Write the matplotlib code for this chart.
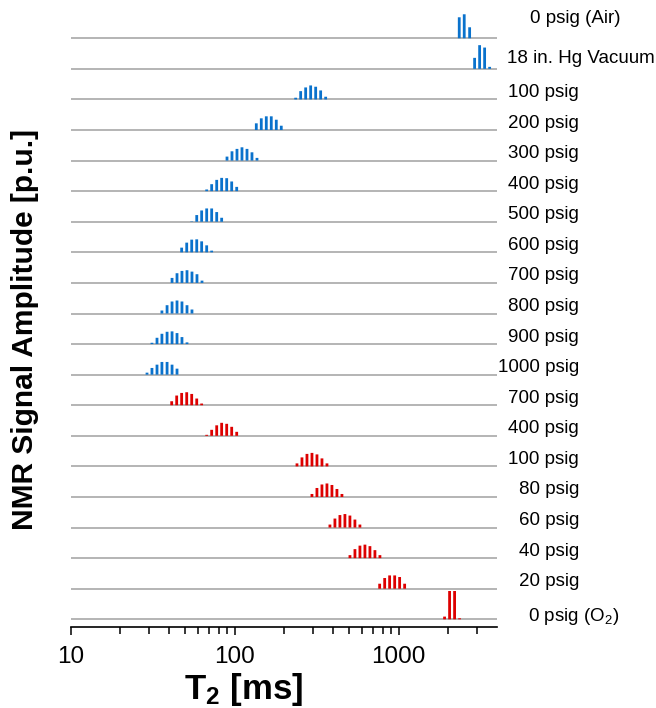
import numpy as np
import matplotlib.pyplot as plt
import matplotlib.ticker as mticker
from matplotlib import transforms

plt.rcParams['font.family'] = ['Liberation Sans', 'DejaVu Sans']
plt.rcParams['mathtext.fontset'] = 'custom'
plt.rcParams['mathtext.rm'] = 'Liberation Sans'
plt.rcParams['mathtext.it'] = 'Liberation Sans:italic'
plt.rcParams['mathtext.bf'] = 'Liberation Sans:bold'

# rows from top to bottom
LABELS = ["0 psig (Air)", "18 in. Hg Vacuum", "100 psig", "200 psig", "300 psig",
          "400 psig", "500 psig", "600 psig", "700 psig", "800 psig", "900 psig",
          "1000 psig", "700 psig", "400 psig", "100 psig", "80 psig", "60 psig",
          "40 psig", "20 psig", r"0 psig (O$_\mathrm{2}$)"]
GROUP = ["blue"] * 12 + ["red"] * 8

# T2 bin centres [ms] and amplitudes for each row
T2 = [
    [2342, 2512, 2710],
    [2906, 3118, 3345, 3589],
    [235.5, 252.6, 271.0, 290.7, 311.9, 334.5, 358.9],
    [135.5, 145.3, 155.9, 167.2, 179.4, 192.4],
    [89.8, 96.3, 103.3, 110.8, 118.9, 127.5, 136.8],
    [67.5, 72.4, 77.7, 83.3, 89.4, 95.9, 102.9],
    [54.7, 58.7, 62.9, 67.5, 72.4, 77.7, 83.3],
    [47.5, 51.0, 54.7, 58.7, 62.9, 67.5, 72.4],
    [41.5, 44.5, 47.7, 51.2, 54.9, 58.9, 63.2],
    [36.0, 38.7, 41.5, 44.5, 47.7, 51.2, 54.9],
    [31.3, 33.6, 36.0, 38.7, 41.5, 44.5, 47.7, 51.2],
    [29.2, 31.3, 33.6, 36.0, 38.7, 41.5, 44.5],
    [41.3, 44.3, 47.5, 51.0, 54.7, 58.7, 62.9],
    [67.5, 72.4, 77.7, 83.3, 89.4, 95.9, 102.9],
    [239.9, 257.3, 276.0, 296.1, 317.6, 340.7, 365.5],
    [296.0, 317.5, 340.6, 365.4, 391.9, 420.4, 451.0],
    [381.0, 408.7, 438.4, 470.3, 504.5, 541.2, 580.5],
    [504.7, 541.4, 580.7, 622.9, 668.2, 716.8, 768.9],
    [766, 822, 881, 946, 1014, 1088],
    [1906, 2045, 2194, 2354],
]
AMP = [
    [21, 24, 11],
    [11, 23.7, 21.3, 2],
    [1.7, 8.3, 12, 14, 12.7, 9, 2.7],
    [6.7, 11.7, 13.7, 13.7, 10.3, 4.3],
    [4, 9.3, 11.7, 13.3, 11.7, 8.3, 2.7],
    [1.7, 7, 11.3, 13.3, 13, 9.7, 4.3],
    [0.4, 6.7, 11.3, 13.3, 13.3, 9.7, 4],
    [4.7, 9.7, 12.7, 13, 11, 7, 1.7],
    [5, 9.7, 12, 12.7, 11.3, 8.7, 2.3],
    [3, 8.3, 12, 13, 12, 8.3, 4],
    [1.3, 6.3, 10.3, 12.3, 12.7, 11, 7, 1.7],
    [2, 6.7, 10, 12.7, 12.7, 10, 6],
    [4, 9.7, 12.3, 13, 11.3, 6.7, 1.7],
    [1, 6, 10.5, 13, 12, 9, 4],
    [3, 9, 12.5, 13.5, 12, 8, 3],
    [3, 9, 12.5, 13.5, 12, 8, 3],
    [3, 9, 12.5, 13.5, 12, 8, 3],
    [3, 9, 12.5, 13.5, 12, 8, 3],
    [5, 10.7, 13.3, 13.3, 11.7, 5],
    [2.7, 28.3, 28.3, 1],
]

COLORS = {"blue": "#0a72cc", "red": "#dd0000"}
ROW_STEP = 30.58
HALF_W = 0.0085  # half bar width in decades

fig = plt.figure(figsize=(6.56, 7.08), dpi=100)
ax = fig.add_axes([70.7 / 656, 1 - 627 / 708, (497 - 70.7) / 656, 619 / 708])

n = len(LABELS)
for i, (t2, amp, grp) in enumerate(zip(T2, AMP, GROUP)):
    base = (n - 1 - i) * ROW_STEP
    ax.axhline(base, color='#a0a0a0', lw=1.1, zorder=1)
    t2 = np.array(t2, dtype=float)
    left = t2 * 10 ** -HALF_W
    width = t2 * (10 ** HALF_W - 10 ** -HALF_W)
    bars = ax.bar(left, amp, width=width, bottom=base, align='edge',
                  color=COLORS[grp], linewidth=0, zorder=2)
    for b in bars:
        b.set_snap(False)

ax.set_xscale('log')
ax.set_xlim(10, 3980)
ax.set_ylim(-7.7, 611.3)
ax.set_yticks([])
for s in ['left', 'right', 'top']:
    ax.spines[s].set_visible(False)
ax.spines['bottom'].set_linewidth(1.2)
ax.xaxis.set_major_locator(mticker.LogLocator(base=10))
ax.xaxis.set_minor_locator(mticker.LogLocator(base=10, subs=np.arange(2, 10)))
ax.xaxis.set_major_formatter(mticker.FuncFormatter(lambda v, p: f"{v:g}"))
ax.xaxis.set_minor_formatter(mticker.NullFormatter())
ax.tick_params(axis='x', which='major', length=6, width=1.1, labelsize=17.5, pad=8)
ax.tick_params(axis='x', which='minor', length=5, width=1.1)

# row labels on the right
trans = transforms.blended_transform_factory(fig.transFigure, ax.transData)
label_dy = [20, 10] + [7] * 17 + [3]
special_x = {0: 530, 1: 507, n - 1: 528}
for i, lab in enumerate(LABELS):
    base = (n - 1 - i) * ROW_STEP
    if i in special_x:
        ax.text(special_x[i] / 656, base + label_dy[i], lab, transform=trans,
                ha='left', va='center', fontsize=13.5, clip_on=False)
    else:
        ax.text(579 / 656, base + label_dy[i], lab, transform=trans,
                ha='right', va='center', fontsize=13.5, clip_on=False)

fig.text(25 / 656, 1 - 330 / 708, "NMR Signal Amplitude [p.u.]", rotation=90,
         ha='center', va='center', fontsize=21.5, fontweight='bold')
fig.text(244 / 656, 1 - 689 / 708, r"$\mathbf{T_2}$ [ms]", ha='center',
         va='center', fontsize=25, fontweight='bold')

fig.savefig("out.png", dpi=100)
